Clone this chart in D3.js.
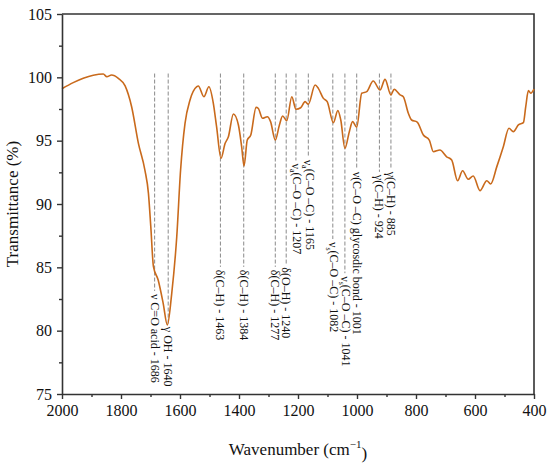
<!DOCTYPE html>
<html>
<head>
<meta charset="utf-8">
<script src="https://cdn.jsdelivr.net/npm/d3@7"></script>
<style>
  body { margin: 0; background: #fff; }
  text { font-family: "Liberation Serif", "DejaVu Serif", serif; }
</style>
</head>
<body>
<script>
const [w, h] = [550, 465];
const margin = { top: 14, right: 16, bottom: 71, left: 62 };

// FTIR spectrum
const wavenumber = [2000, 1962, 1928, 1894, 1860, 1848, 1832, 1809, 1786, 1764, 1741, 1719, 1707, 1699, 1690,
  1674, 1657, 1643, 1628, 1611, 1598, 1583, 1566, 1543, 1538, 1519, 1502, 1487, 1476, 1461, 1447, 1436,
  1419, 1402, 1391, 1383, 1372, 1360, 1342, 1335, 1320, 1304, 1293, 1277, 1263, 1252, 1238, 1221, 1207,
  1191, 1176, 1165, 1142, 1131, 1114, 1101, 1080, 1065, 1055, 1041, 1026, 1015, 1001, 984, 967, 945, 922,
  905, 885, 874, 854, 843, 826, 815, 796, 775, 755, 741, 719, 696, 679, 659, 642, 623, 606, 583, 560, 547,
  526, 504, 485, 470, 453, 436, 428, 419, 411, 400];
const transmittance = [99.1, 99.58, 99.92, 100.16, 100.26, 100.05, 100.18, 99.92, 99.32, 97.68, 94.79, 92.68, 90.84, 88.21, 85.05,
  84.0, 82.16, 80.45, 82.95, 87.42, 92.68, 96.37, 98.21, 99.26, 99.32, 98.47, 99.26, 97.95, 96.1, 93.61, 94.79, 95.31,
  97.11, 96.24, 94.52, 93.0, 95.05, 95.45, 97.63, 97.56, 96.77, 96.89, 96.5, 95.05, 96.24, 96.95, 96.58, 98.47, 97.48,
  97.6, 98.08, 97.87, 99.39, 99.13, 98.34, 98.08, 96.42, 97.37, 96.63, 94.4, 95.71, 96.5, 96.06, 98.74, 98.87, 99.71, 99.0,
  99.84, 98.61, 99.06, 98.61, 98.47, 97.16, 96.63, 96.47, 95.45, 95.05, 94.13, 94.26, 93.73, 93.47, 91.84, 92.63, 91.95, 92.21, 91.05, 91.84, 91.58,
  92.95, 94.52, 95.98, 95.71, 96.24, 96.42, 97.68, 98.95, 98.74, 99.06];

// band assignments
const bandPos = [1686, 1640, 1463, 1384, 1277, 1240, 1207, 1165, 1082, 1041, 1001, 924, 885];
const bandName = ['ν C=O acid', 'γ OH', 'δ(C–H)', 'δ(C–H)', 'δ(C–H)', 'δ(O–H)', 'ν|a|(C–O –C)', 'ν|a|(C–O –C)',
  'ν|s|(C–O –C)', 'ν|s|(C–O –C)', 'ν(C–O –C) glycosdic bond', 'γ(C–H)', 'γ(C–H)'];
// transmittance level where each label starts
const bandLabelTop = [82.9, 80.3, 84.8, 84.8, 84.8, 85.0, 93.2, 93.5, 87.0, 84.3, 92.55, 92.3, 92.55];
const bandLineTop = 100.3;

const xTicks = [2000, 1800, 1600, 1400, 1200, 1000, 800, 600, 400];
const xMinor = [1900, 1700, 1500, 1300, 1100, 900, 700, 500];
const yTicks = [75, 80, 85, 90, 95, 100, 105];
const yMinor = [77.5, 82.5, 87.5, 92.5, 97.5, 102.5];

const svg = d3.select('body').append('svg')
  .attr('width', w)
  .attr('height', h);

const x = d3.scaleLinear().domain([2000, 400]).range([margin.left, w - margin.right]);
const y = d3.scaleLinear().domain([75, 105]).range([h - margin.bottom, margin.top]);

const axisColor = '#333';

// frame top + right
svg.append('path')
  .attr('d', `M${x(2000)},${y(105)}H${x(400)}V${y(75)}`)
  .attr('fill', 'none')
  .attr('stroke', axisColor)
  .attr('stroke-width', 1.6);

// dashed band lines + labels
const bands = bandPos.map((p, i) => ({ pos: p, name: bandName[i], top: bandLabelTop[i] }));

svg.append('g').selectAll('line')
  .data(bands)
  .enter()
  .append('line')
  .attr('x1', d => x(d.pos))
  .attr('x2', d => x(d.pos))
  .attr('y1', y(bandLineTop))
  .attr('y2', d => y(d.top) - 3)
  .attr('stroke', '#8a8a8a')
  .attr('stroke-width', 1)
  .attr('stroke-dasharray', '4,2');

const labels = svg.append('g').selectAll('text')
  .data(bands)
  .enter()
  .append('text')
  .attr('transform', d => `translate(${x(d.pos)},${y(d.top)}) rotate(90)`)
  .attr('dy', '0.33em')
  .attr('font-size', 12)
  .attr('fill', '#111');

labels.each(function (d) {
  const t = d3.select(this);
  const parts = d.name.split('|');
  t.append('tspan').text(parts[0]);
  if (parts.length > 1) {
    t.append('tspan').attr('font-size', 8).attr('dy', '0.3em').text(parts[1]);
    t.append('tspan').attr('dy', '-0.3em').text(parts[2]);
  }
  t.append('tspan').text(` - ${d.pos}`);
});

// spectrum
const line = d3.line()
  .x((d, i) => x(wavenumber[i]))
  .y(d => y(d))
  .curve(d3.curveMonotoneX);

svg.append('path')
  .datum(transmittance)
  .attr('d', line)
  .attr('fill', 'none')
  .attr('stroke', '#c96a1c')
  .attr('stroke-width', 1.6);

// axes
const gx = svg.append('g').attr('transform', `translate(0,${y(75)})`);
gx.call(d3.axisBottom(x).tickValues(xTicks).tickSize(5).tickSizeOuter(0).tickPadding(6).tickFormat(d3.format('d')));
gx.append('g').call(d3.axisBottom(x).tickValues(xMinor).tickSize(3).tickFormat(''))
  .select('.domain').remove();

const gy = svg.append('g').attr('transform', `translate(${x(2000)},0)`);
gy.call(d3.axisLeft(y).tickValues(yTicks).tickSize(5).tickSizeOuter(0).tickPadding(5));
gy.append('g').call(d3.axisLeft(y).tickValues(yMinor).tickSize(3).tickFormat(''))
  .select('.domain').remove();

svg.selectAll('.domain').attr('stroke', axisColor).attr('stroke-width', 1.6);
svg.selectAll('.tick line').attr('stroke', axisColor).attr('stroke-width', 1.4);
svg.selectAll('.tick text')
  .attr('font-family', '"Liberation Serif", serif')
  .attr('font-size', 16)
  .attr('fill', '#111');

// axis titles
const xt = svg.append('text')
  .attr('x', (x(2000) + x(400)) / 2)
  .attr('y', 455)
  .attr('text-anchor', 'middle')
  .attr('font-size', 17)
  .attr('fill', '#111');
xt.append('tspan').text('Wavenumber (cm');
xt.append('tspan').attr('font-size', 11).attr('dy', '-0.6em').text('−1');
xt.append('tspan').attr('dy', '0.6em').text(')');

svg.append('text')
  .attr('transform', `translate(18,${(y(75) + y(105)) / 2}) rotate(-90)`)
  .attr('text-anchor', 'middle')
  .attr('font-size', 17)
  .attr('fill', '#111')
  .text('Transmittance (%)');
</script>
</body>
</html>
